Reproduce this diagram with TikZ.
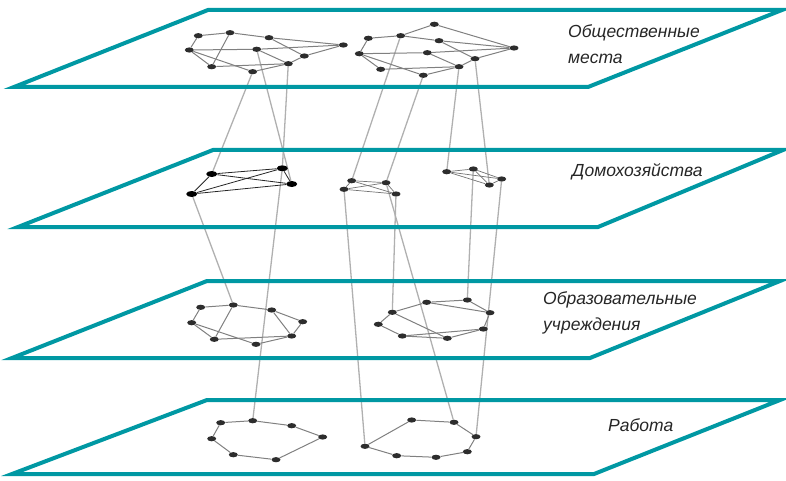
\documentclass[tikz,border=0pt]{standalone}
\usepackage{fontspec}
\setmainfont{Liberation Sans}
\usetikzlibrary{shapes.geometric}
\pgfdeclarelayer{links}
\pgfdeclarelayer{planes}
\pgfsetlayers{links,planes,main}
\definecolor{planeteal}{RGB}{0,152,163}
\definecolor{linkgray}{RGB}{176,176,176}
\definecolor{edgegray}{RGB}{128,128,128}
\definecolor{vtxgray}{RGB}{45,45,45}
\begin{document}
\begin{tikzpicture}[x=1pt,y=-1pt,
  plane/.style={draw=planeteal,line width=4pt,line join=miter},
  vtx/.style={ellipse,fill=vtxgray,minimum width=9pt,minimum height=5.2pt,inner sep=0pt},
  bigvtx/.style={ellipse,fill=black,minimum width=11pt,minimum height=6pt,inner sep=0pt},
  edge/.style={draw=edgegray,line width=1pt},
  darkedge/.style={draw=black!85,line width=0.8pt},
  thinedge/.style={draw=black!55,line width=0.7pt},
  link/.style={draw=linkgray,line width=1.3pt},
  lbl/.style={font=\fontsize{17.5}{21}\selectfont\itshape,text=black!85,inner sep=0pt,anchor=base west}]
\useasboundingbox (0,0) rectangle (786,481);

% ---------- layer 1: public places ----------
\node[vtx] (pa) at (198.3,35.7) {};
\node[vtx] (pb) at (230,32.7) {};
\node[vtx] (pc) at (269,37.7) {};
\node[vtx] (pd) at (343.3,45) {};
\node[vtx] (pe) at (189.3,50) {};
\node[vtx] (pf) at (256.7,49.3) {};
\node[vtx] (pg) at (304.3,56) {};
\node[vtx] (ph) at (211.7,66.7) {};
\node[vtx] (pi) at (288.3,63.7) {};
\node[vtx] (pk) at (252.7,71.7) {};

\node[vtx] (qt) at (434.3,24.3) {};
\node[vtx] (qa) at (368.3,38.3) {};
\node[vtx] (qb) at (400.7,35.7) {};
\node[vtx] (qc) at (439,40.7) {};
\node[vtx] (qd) at (514,48) {};
\node[vtx] (qe) at (359.3,53.7) {};
\node[vtx] (qf) at (427.3,52.7) {};
\node[vtx] (qg) at (475,58.7) {};
\node[vtx] (qh) at (380.7,69.3) {};
\node[vtx] (qi) at (459,66.7) {};
\node[vtx] (qk) at (423.3,75.3) {};

\foreach \u/\v in {pa/pb,pa/pe,pb/ph,pb/pc,pc/pd,pc/pg,pe/pf,pf/pd,pe/ph,pe/pk,ph/pi,pk/pi,pi/pg,pg/pd,pf/pi,
  qt/qb,qt/qd,qa/qb,qa/qe,qb/qc,qc/qd,qc/qg,qe/qf,qf/qd,qf/qi,qe/qh,qe/qk,qh/qi,qk/qi,qi/qg,qg/qd}
  \draw[edge] (\u) -- (\v);

% ---------- layer 2: households ----------
\node[bigvtx] (ra) at (211.7,174) {};
\node[bigvtx] (rb) at (282.3,168.3) {};
\node[bigvtx] (rc) at (291.7,184) {};
\node[bigvtx] (rd) at (191.7,194) {};

\node[vtx] (sa) at (351.7,180.7) {};
\node[vtx] (sb) at (386,182.7) {};
\node[vtx] (sc) at (344,189.3) {};
\node[vtx] (sd) at (396,194) {};

\node[vtx] (ta) at (446.7,171.7) {};
\node[vtx] (tb) at (473.3,169) {};
\node[vtx] (tc) at (501.7,179) {};
\node[vtx] (td) at (489.3,185) {};

\foreach \u/\v in {ra/rb,ra/rc,ra/rd,rb/rc,rb/rd,rc/rd}
  \draw[darkedge] (\u) -- (\v);
\foreach \u/\v in {sa/sb,sa/sc,sa/sd,sb/sc,sb/sd,sc/sd,ta/tb,ta/tc,ta/td,tb/tc,tb/td,tc/td}
  \draw[thinedge] (\u) -- (\v);

% ---------- layer 3: schools ----------
\node[vtx] (ua) at (200.7,307.3) {};
\node[vtx] (ub) at (233.3,305) {};
\node[vtx] (uc) at (271.7,310) {};
\node[vtx] (ud) at (302.7,321.7) {};
\node[vtx] (ue) at (191.7,322.7) {};
\node[vtx] (uf) at (291.7,336) {};
\node[vtx] (ug) at (214.3,339.3) {};
\node[vtx] (uh) at (256,344.3) {};

\node[vtx] (va) at (426.7,302.3) {};
\node[vtx] (vb) at (467.3,300) {};
\node[vtx] (vc) at (392.3,312.3) {};
\node[vtx] (vd) at (490,312.7) {};
\node[vtx] (ve) at (378.3,324.3) {};
\node[vtx] (vf) at (483.3,329) {};
\node[vtx] (vg) at (402.3,336) {};
\node[vtx] (vh) at (447.3,338.3) {};

\foreach \u/\v in {ua/ub,ua/ue,ub/uc,ub/ug,uc/ud,uc/uf,ud/uf,ue/ug,ue/uh,ug/uf,uh/uf,
  va/vb,va/vc,va/vd,vb/vd,vc/ve,vc/vh,ve/vg,vg/vh,vg/vf,vh/vf,vf/vd}
  \draw[edge] (\u) -- (\v);

% ---------- layer 4: work ----------
\node[vtx] (wa) at (220.7,422.7) {};
\node[vtx] (wb) at (252.7,420.7) {};
\node[vtx] (wc) at (291.7,425.7) {};
\node[vtx] (wd) at (322.7,437) {};
\node[vtx] (we) at (211.7,438.7) {};
\node[vtx] (wf) at (233.3,454.7) {};
\node[vtx] (wg) at (276,459.7) {};

\node[vtx] (xa) at (411.7,420) {};
\node[vtx] (xb) at (454,422.3) {};
\node[vtx] (xc) at (476,436.7) {};
\node[vtx] (xd) at (365,446.3) {};
\node[vtx] (xe) at (467.3,451.7) {};
\node[vtx] (xf) at (396.7,455.7) {};
\node[vtx] (xg) at (436,457.3) {};

\foreach \u/\v in {wa/wb,wb/wc,wc/wd,wd/wg,wg/wf,wf/we,we/wa,
  xa/xb,xb/xc,xc/xe,xe/xg,xg/xf,xf/xd,xd/xa}
  \draw[edge] (\u) -- (\v);

% ---------- links between layers ----------
\begin{pgfonlayer}{links}
\foreach \u/\v in {pk/ra,pf/rc,pi/rb,qb/sa,qk/sb,qi/ta,qg/td,
  rd/ub,rb/wb,sc/xd,sb/xb,sd/vc,tb/vb,tc/xc}
  \draw[link] (\u) -- (\v);
\end{pgfonlayer}

% ---------- the four planes ----------
\begin{pgfonlayer}{planes}
\draw[plane] (208,10) -- (782,10) -- (588,87) -- (14,87) -- cycle;
\draw[plane] (213,150) -- (783,150) -- (598,227) -- (18,227) -- cycle;
\draw[plane] (207,281) -- (780,281) -- (590,358) -- (12,358) -- cycle;
\draw[plane] (207,400) -- (780,400) -- (594,474) -- (12,474) -- cycle;
\end{pgfonlayer}

% ---------- layer names ----------
\node[lbl] (t1a) at (568,38) {Общественные};
\node[lbl] (t1b) at (568,64) {места};
\node[lbl] (t2) at (572,176) {Домохозяйства};
\node[lbl] (t3a) at (543,304) {Образовательные};
\node[lbl] (t3b) at (543,330) {учреждения};
\node[lbl] (t4) at (608,431) {Работа};
\end{tikzpicture}
\end{document}
